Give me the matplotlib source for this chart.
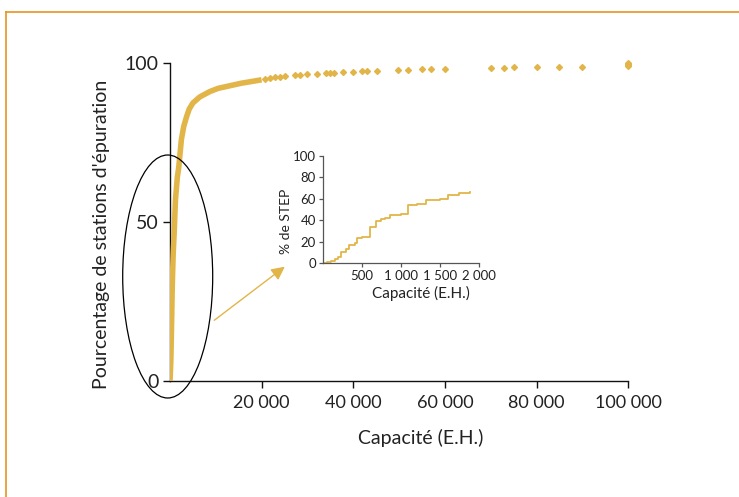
import matplotlib.pyplot as plt
from matplotlib.patches import Ellipse, FancyArrowPatch
from matplotlib.lines import Line2D
from matplotlib.ticker import FuncFormatter

plt.rcParams['font.family'] = ['Lato', 'DejaVu Sans']

gold = '#E2B548'
frame_col = '#E6951F'
txt = '#222222'

# dense part of the cumulative curve (stations overlap into a thick line)
curve_cap = [0, 100, 200, 350, 500, 700, 900, 1200, 1600, 1900, 2500, 3000,
             3600, 4200, 5000, 6500, 8700, 10500, 13000, 15500, 18000, 20000]
curve_pct = [0, 3, 7, 18, 30, 40, 46, 57, 64, 67, 76, 80,
             83, 85.5, 87.4, 89.3, 91, 92, 92.8, 93.6, 94.2, 94.7]

# individual large stations
st_cap = [20700, 21800, 22900, 24000, 25100, 27300, 28400, 30000, 32000,
          34000, 34900, 35900, 37800, 40000, 42000, 43100, 45100, 49800,
          52000, 55000, 57000, 60000, 70000, 73000, 75000, 80000, 85000,
          90000, 100000, 100000, 100000, 100000]
st_pct = [95.1, 95.4, 95.5, 95.6, 95.9, 96.1, 96.2, 96.4, 96.6,
          96.8, 96.8, 96.9, 97.0, 97.2, 97.4, 97.5, 97.6, 97.8,
          97.8, 98.0, 98.1, 98.2, 98.4, 98.4, 98.6, 98.6, 98.8,
          98.8, 99.0, 99.4, 99.7, 100]

# zoom on small stations (step curve)
zoom_cap = [0, 50, 100, 150, 190, 235, 290, 340, 405, 435, 500, 600, 685,
            750, 790, 855, 1000, 1090, 1200, 1325, 1500, 1600, 1750, 1880]
zoom_pct = [0, 0.5, 2, 4, 6, 10, 13, 17, 19, 23, 24, 34, 39,
            41, 42, 45, 46, 54, 55, 59, 60, 64, 65, 66]


def space_thousands(v, pos):
    s = '{:,.0f}'.format(v)
    return s.replace(',', ' ')


fig = plt.figure(figsize=(7.39, 4.97), dpi=100)

ax = fig.add_axes([0.230, 0.2334, 0.620, 0.640])
ax.plot(curve_cap, curve_pct, color=gold, lw=4, solid_capstyle='butt', zorder=3)
ax.plot(st_cap, st_pct, 'D', color=gold, ms=3.0, mec=gold, zorder=3, clip_on=False)
ax.set_xlim(0, 100000)
ax.set_ylim(0, 100)
ax.set_xticks([20000, 40000, 60000, 80000, 100000])
ax.set_yticks([0, 50, 100])
ax.xaxis.set_major_formatter(FuncFormatter(space_thousands))
for side in ['top', 'right']:
    ax.spines[side].set_visible(False)
for side in ['left', 'bottom']:
    ax.spines[side].set_color('#111111')
    ax.spines[side].set_linewidth(1.0)
ax.tick_params(axis='both', direction='out', length=5, width=1, colors='#111111')
ax.tick_params(axis='y', labelsize=14, labelcolor=txt, pad=3)
ax.tick_params(axis='x', labelsize=13, labelcolor=txt, pad=5)
ax.set_xlabel('Capacité (E.H.)', fontsize=14, color=txt)
ax.xaxis.set_label_coords(0.548, -0.15)
ax.set_ylabel("Pourcentage de stations d'épuration", fontsize=14, color=txt)
ax.yaxis.set_label_coords(-0.13, 0.46)

ins = fig.add_axes([0.437, 0.471, 0.211, 0.215])
ins.step(zoom_cap, zoom_pct, where='post', color=gold, lw=1.3)
ins.set_xlim(0, 2000)
ins.set_ylim(0, 100)
ins.set_xticks([500, 1000, 1500, 2000])
ins.set_yticks([0, 20, 40, 60, 80, 100])
ins.xaxis.set_major_formatter(FuncFormatter(space_thousands))
for side in ['top', 'right']:
    ins.spines[side].set_visible(False)
for side in ['left', 'bottom']:
    ins.spines[side].set_color('#555555')
    ins.spines[side].set_linewidth(0.9)
ins.tick_params(axis='both', direction='out', length=3, width=0.9, colors='#555555',
                labelsize=9.5, labelcolor=txt, pad=2)
ins.set_xlabel('Capacité (E.H.)', fontsize=11, color=txt)
ins.xaxis.set_label_coords(0.63, -0.22)
ins.set_ylabel('% de STEP', fontsize=10, color=txt)
ins.yaxis.set_label_coords(-0.2, 0.39)

# ellipse around the steep part
fig.add_artist(Ellipse((167.7 / 739, 1 - 276.5 / 497), 90 / 739, 243 / 497,
                       transform=fig.transFigure, fill=False, ec='black', lw=0.9))

# arrow towards the inset
fig.add_artist(FancyArrowPatch((212 / 739, 1 - 322 / 497), (287 / 739, 1 - 265 / 497),
                               transform=fig.transFigure, arrowstyle='-|>',
                               mutation_scale=20, color=gold, lw=1.0))

# orange frame
fig.add_artist(Line2D([6 / 739, 1.0], [1 - 12 / 497, 1 - 12 / 497],
                      transform=fig.transFigure, color=frame_col, lw=1.2))
fig.add_artist(Line2D([6 / 739, 6 / 739], [0, 1 - 12 / 497],
                      transform=fig.transFigure, color=frame_col, lw=1.2))

fig.savefig('out.png', dpi=100)
